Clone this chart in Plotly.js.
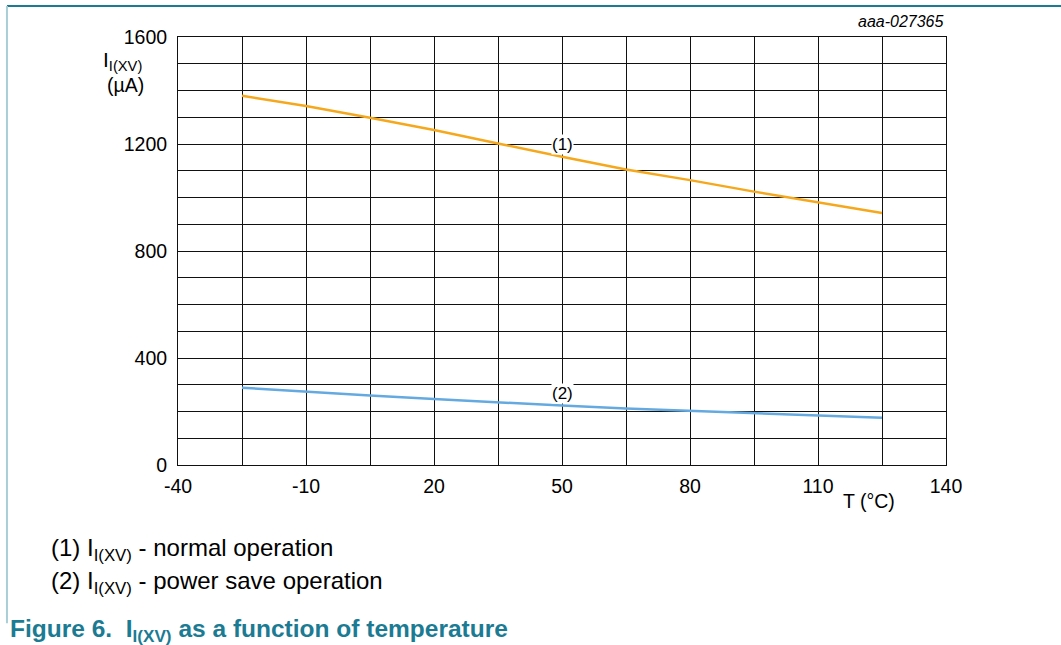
<!DOCTYPE html>
<html>
<head>
<meta charset="utf-8">
<script src="https://cdn.plot.ly/plotly-3.0.1.min.js"></script>
<style>
html,body{margin:0;padding:0;background:#fff;}
#chart{width:1061px;height:645px;}
</style>
</head>
<body>
<div id="chart"></div>
<script>
// Data
const temperature = [-25, -10, 5, 20, 35, 50, 65, 80, 95, 110, 125];
const normalCurrent = [1380, 1342, 1298, 1252, 1202, 1152, 1105, 1065, 1022, 983, 942];
const powerSaveCurrent = [289, 274, 260, 247, 234, 222, 211, 202, 193, 184, 177];
const xTicks = [-40, -10, 20, 50, 80, 110, 140];
const yTicks = [0, 400, 800, 1200, 1600];

const F = 'Liberation Sans, Arial, sans-serif';
const teal = '#1b7b93';

const traces = [
  {x: temperature, y: normalCurrent, mode: 'lines', line: {color: '#f6a81c', width: 2.5}, hoverinfo: 'skip', showlegend: false},
  {x: temperature, y: powerSaveCurrent, mode: 'lines', line: {color: '#64aae0', width: 2.5}, hoverinfo: 'skip', showlegend: false}
];

const layout = {
  width: 1061, height: 645,
  margin: {l: 178, r: 115, t: 37, b: 180},
  paper_bgcolor: '#fff', plot_bgcolor: '#fff',
  font: {family: F, color: '#000'},
  showlegend: false,
  xaxis: {
    range: [-40, 140], tickmode: 'array', tickvals: xTicks, ticktext: xTicks.map(String),
    showgrid: true, gridcolor: '#111', gridwidth: 1,
    minor: {tick0: -40, dtick: 15, showgrid: true, gridcolor: '#111', gridwidth: 1},
    showline: true, mirror: true, linecolor: '#111', linewidth: 1,
    zeroline: false, ticks: '', ticklen: 0, ticklabelstandoff: 4,
    tickfont: {size: 19.5, family: F, color: '#000'}, fixedrange: true
  },
  yaxis: {
    range: [0, 1600], tickmode: 'array', tickvals: yTicks, ticktext: yTicks.map(String),
    showgrid: true, gridcolor: '#111', gridwidth: 1,
    minor: {tick0: 0, dtick: 100, showgrid: true, gridcolor: '#111', gridwidth: 1},
    showline: true, mirror: true, linecolor: '#111', linewidth: 1,
    zeroline: false, ticks: '', ticklen: 0, ticklabelstandoff: 6,
    tickfont: {size: 19.5, family: F, color: '#000'}, fixedrange: true
  },
  shapes: [
    {type: 'line', xref: 'paper', yref: 'paper', x0: -0.2227, x1: 1.16, y0: 1.0724, y1: 1.0724, line: {color: teal, width: 2}},
    {type: 'line', xref: 'paper', yref: 'paper', x0: -0.2227, x1: -0.2227, y0: 1.0724, y1: -0.37, line: {color: '#a9cfd6', width: 2}}
  ],
  annotations: [
    {x: 50, y: 1197, xref: 'x', yref: 'y', text: '(1)', showarrow: false, bgcolor: '#fff', font: {size: 17, family: F, color: '#000'}, borderpad: 0},
    {x: 50, y: 269, xref: 'x', yref: 'y', text: '(2)', showarrow: false, bgcolor: '#fff', font: {size: 17, family: F, color: '#000'}, borderpad: 0},
    {x: 1, y: 1.012, xref: 'paper', yref: 'paper', xanchor: 'right', yanchor: 'bottom', text: '<i>aaa-027365</i>', showarrow: false, font: {size: 16, family: F, color: '#000'}},
    {x: -0.1, y: 0.945, xref: 'paper', yref: 'paper', xanchor: 'left', yanchor: 'middle', text: 'I<sub>I(XV)</sub>', showarrow: false, font: {size: 21, family: F, color: '#000'}},
    {x: -0.095, y: 0.888, xref: 'paper', yref: 'paper', xanchor: 'left', yanchor: 'middle', text: '(µA)', showarrow: false, font: {size: 19.5, family: F, color: '#000'}},
    {x: 0.9, y: -0.083, xref: 'paper', yref: 'paper', xanchor: 'center', yanchor: 'middle', text: 'T (°C)', showarrow: false, font: {size: 19.5, family: F, color: '#000'}},
    {x: -0.168, y: -0.197, xref: 'paper', yref: 'paper', xanchor: 'left', yanchor: 'middle', text: '(1) I<sub>I(XV)</sub> - normal operation', showarrow: false, font: {size: 24, family: F, color: '#000'}},
    {x: -0.168, y: -0.274, xref: 'paper', yref: 'paper', xanchor: 'left', yanchor: 'middle', text: '(2) I<sub>I(XV)</sub> - power save operation', showarrow: false, font: {size: 24, family: F, color: '#000'}},
    {x: -0.221, y: -0.386, xref: 'paper', yref: 'paper', xanchor: 'left', yanchor: 'middle', text: '<b>Figure 6.  I<sub>I(XV)</sub> as a function of temperature</b>', showarrow: false, font: {size: 24.5, family: F, color: teal}}
  ]
};

Plotly.newPlot('chart', traces, layout, {displayModeBar: false, staticPlot: true});
</script>
</body>
</html>
